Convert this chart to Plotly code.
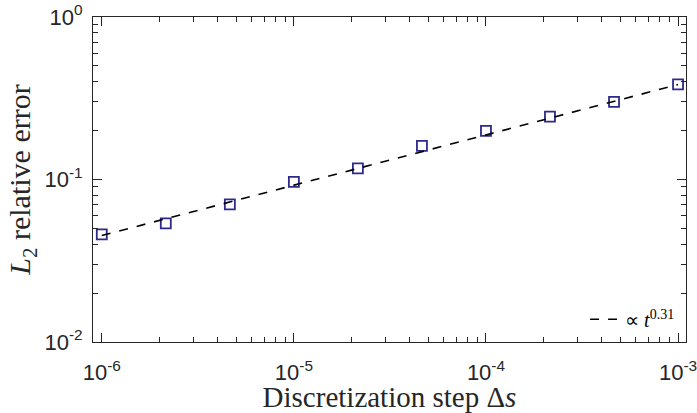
import numpy as np
import plotly.graph_objects as go

# Data
step = [1e-6, 2.154e-6, 4.642e-6, 1e-5, 2.154e-5, 4.642e-5, 1e-4, 2.154e-4, 4.642e-4, 1e-3]
err = [0.0460, 0.0537, 0.0703, 0.0966, 0.117, 0.161, 0.199, 0.2435, 0.300, 0.385]
fit_x = [1e-6, 1e-3]
fit_y = [0.0452, 0.384]
fit_label = "∝ <i>t</i><sup>0.31</sup>"

x_major = [1e-6, 1e-5, 1e-4, 1e-3]
x_major_text = ["10<sup>-6</sup>", "10<sup>-5</sup>", "10<sup>-4</sup>", "10<sup>-3</sup>"]
y_major = [1e-2, 1e-1, 1e0]
y_major_text = ["10<sup>-2</sup>", "10<sup>-1</sup>", "10<sup>0</sup>"]

x_minor = [m * 10.0**e for e in range(-7, -2) for m in range(2, 10)]
x_minor = [v for v in x_minor if 0.9e-6 <= v <= 1.1e-3]
y_minor = [m * 10.0**e for e in range(-2, 0) for m in range(2, 10)]

x_range = [np.log10(0.9e-6), np.log10(1.1e-3)]
y_range = [-2, 0]

ink = "#262626"
serif = "Liberation Serif, Times New Roman, serif"
sans = "Liberation Sans, Arial, sans-serif"

fig = go.Figure()
fig.add_trace(go.Scatter(
    x=step, y=err, mode="markers", showlegend=False,
    marker=dict(symbol="square-open", size=10, color="#2E2A8C", line=dict(width=1.8, color="#2E2A8C")),
))
fig.add_trace(go.Scatter(
    x=fit_x, y=fit_y, mode="lines", name=fit_label, xaxis="x2", yaxis="y2",
    line=dict(color="black", width=1.6, dash="dash"),
))

# primary axes: the box, inside ticks (major + minor), no labels
box_axis = dict(
    type="log", showgrid=False, zeroline=False, automargin=False,
    showline=True, linecolor=ink, linewidth=1, mirror="ticks",
    ticks="inside", ticklen=9, tickwidth=1, tickcolor=ink, showticklabels=False,
)
fig.update_layout(
    xaxis=dict(**box_axis, range=x_range, tickvals=x_major,
               minor=dict(tickvals=x_minor, ticks="inside", ticklen=5, tickwidth=1, tickcolor=ink, showgrid=False)),
    yaxis=dict(**box_axis, range=y_range, tickvals=y_major,
               minor=dict(tickvals=y_minor, ticks="inside", ticklen=5, tickwidth=1, tickcolor=ink, showgrid=False)),
)

# overlay axes: tick labels and titles, pushed away by transparent outside ticks
label_axis = dict(
    type="log", showgrid=False, zeroline=False, automargin=False, showline=False,
    ticks="outside", tickwidth=1, tickcolor="rgba(0,0,0,0)", ticklabeloverflow="allow",
    tickfont=dict(family=sans, size=22, color=ink),
)
fig.update_layout(
    xaxis2=dict(**label_axis, overlaying="x", side="bottom", anchor="y2", range=x_range,
                tickvals=x_major, ticktext=x_major_text, ticklen=11,
                title=dict(text="Discretization step Δ<i>s</i>", standoff=2,
                           font=dict(family=serif, size=29, color=ink))),
    yaxis2=dict(**label_axis, overlaying="y", side="left", anchor="x2", range=y_range,
                tickvals=y_major, ticktext=y_major_text, ticklen=5,
                title=dict(text="<i>L</i><sub>2</sub> relative error", standoff=4,
                           font=dict(family=serif, size=30, color=ink))),
)

fig.update_layout(
    width=697, height=413,
    margin=dict(l=93, r=11, t=17, b=71),
    plot_bgcolor="white", paper_bgcolor="white",
    legend=dict(x=0.99, y=0.01, xanchor="right", yanchor="bottom",
                bgcolor="rgba(0,0,0,0)", borderwidth=0,
                font=dict(family=serif, size=20, color="black"),
                itemwidth=30),
)

fig.write_html("out.html", config={"displayModeBar": False},
               post_script="document.body.style.margin='0';document.body.style.overflow='hidden';")
